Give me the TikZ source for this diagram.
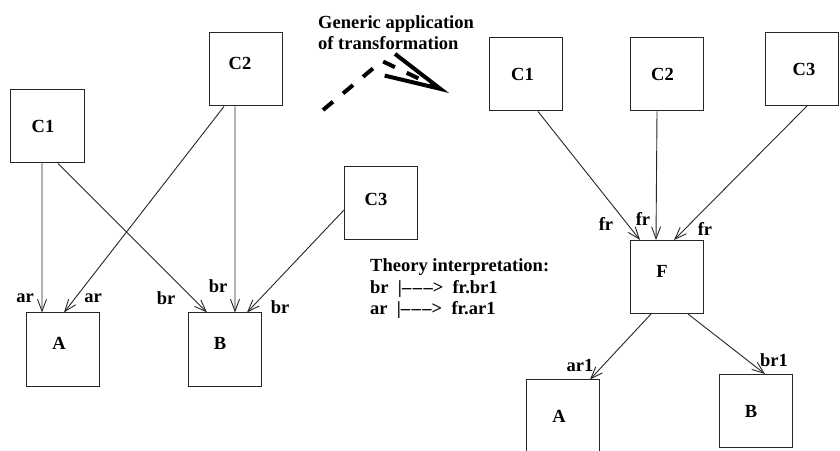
\documentclass[tikz,border=0pt]{standalone}
\usepackage{fontspec}
\setmainfont{Liberation Serif}
\usetikzlibrary{arrows.meta}
\newcommand{\mapsdash}{|\textendash\kern1.5bp\textendash\kern1.5bp\textendash>}
\begin{document}
\begin{tikzpicture}[x=1bp,y=-1bp,
  every node/.style={font=\bfseries\fontsize{18.5bp}{21.5bp}\selectfont},
  box/.style={draw=black!85, line width=1bp, minimum width=73bp,
    minimum height=73bp, inner sep=0pt},
  link/.style={draw=black!85, line width=0.9bp,
    -{Straight Barb[length=12bp,width=9bp]}},
  elbl/.style={inner sep=0pt},
  txt/.style={inner sep=0pt, align=left},
]
\clip (0,0) rectangle (840,451);
\fill[white] (0,0) rectangle (840,451);

% ---- original structure ----
\node[box, label={[name=tlC1,xshift=-4.5bp,yshift=0.5bp]center:C1}] (lC1) at (47.5,126.5) {};
\node[box, label={[name=tlC2,xshift=-5.5bp,yshift=6.5bp]center:C2}] (lC2) at (245.5,69.5) {};
\node[box, label={[name=tlC3,xshift=-5bp,yshift=4.5bp]center:C3}] (lC3) at (381,203.5) {};
\node[box, label={[name=tlA,xshift=-4bp,yshift=6.5bp]center:A}] (lA) at (63,349.5) {};
\node[box, label={[name=tlB,xshift=-4.5bp,yshift=6.5bp]center:B}] (lB) at (224.5,349.5) {};

\draw[link] ([xshift=-5.5bp]lC1.south) -- ([xshift=-21bp]lA.north);
\draw[link] ([xshift=10.5bp]lC1.south) -- ([xshift=-17.5bp]lB.north);
\draw[link] ([xshift=-21.5bp]lC2.south) -- ([xshift=1bp]lA.north);
\draw[link] ([xshift=-10.5bp]lC2.south) -- ([xshift=10.5bp]lB.north);
\draw[link] ([yshift=-6.5bp]lC3.west) -- ([xshift=22.5bp]lB.north);

\node[elbl] (ar1l) at (25,298) {ar};
\node[elbl] (ar2l) at (93,298) {ar};
\node[elbl] (br1l) at (166,298) {br};
\node[elbl] (br2l) at (218,286) {br};
\node[elbl] (br3l) at (280,307) {br};

% ---- transformation arrow (base anchor sits on the last line) ----
\node[txt, anchor=base west] (gen) at (318,50) {Generic application\\of transformation};
\coordinate (g0) at (323,110);
\coordinate (g1) at (382,61);
\coordinate (g2) at (449,93);
\draw[line width=4bp, dash pattern=on 13bp off 13bp,
  -{Straight Barb[sharp,length=56bp,width=24bp]}] (g0) -- (g1) -- (g2);

% ---- theory interpretation ----
\node[txt, anchor=base west] (theory) at (370,315)
  {Theory interpretation:\\
   br\ \ \mapsdash\ \ fr.br1\\
   ar\ \ \mapsdash\ \ fr.ar1};

% ---- transformed structure ----
\node[box, label={[name=trC1,xshift=-3.5bp]center:C1}] (rC1) at (526,74.5) {};
\node[box, label={[name=trC2,xshift=-4.5bp]center:C2}] (rC2) at (667,74.5) {};
\node[box, label={[name=trC3,xshift=2bp]center:C3}] (rC3) at (802,69) {};
\node[box, label={[name=tF,xshift=-5bp,yshift=6bp]center:F}] (F) at (667,277) {};
\node[box, label={[name=trA,xshift=-4bp]center:A}] (rA) at (563,416.5) {};
\node[box, label={[name=trB,xshift=-4.5bp]center:B}] (rB) at (755.5,411) {};

\draw[link] ([xshift=12bp]rC1.south) -- ([xshift=-27bp]F.north);
\draw[link] ([xshift=-10bp]rC2.south) -- ([xshift=-11bp]F.north);
\draw[link] ([xshift=5bp]rC3.south) -- ([xshift=7bp]F.north);
\draw[link] ([xshift=-16bp]F.south) -- ([xshift=27bp]rA.north);
\draw[link] ([xshift=21bp]F.south) -- ([xshift=9.5bp]rB.north);

\node[elbl] (fr1l) at (606,224) {fr};
\node[elbl] (fr2l) at (643,219) {fr};
\node[elbl] (fr3l) at (705,229) {fr};
\node[elbl] (ar1r) at (580,365) {ar1};
\node[elbl] (br1r) at (774,360) {br1};
\end{tikzpicture}
\end{document}
